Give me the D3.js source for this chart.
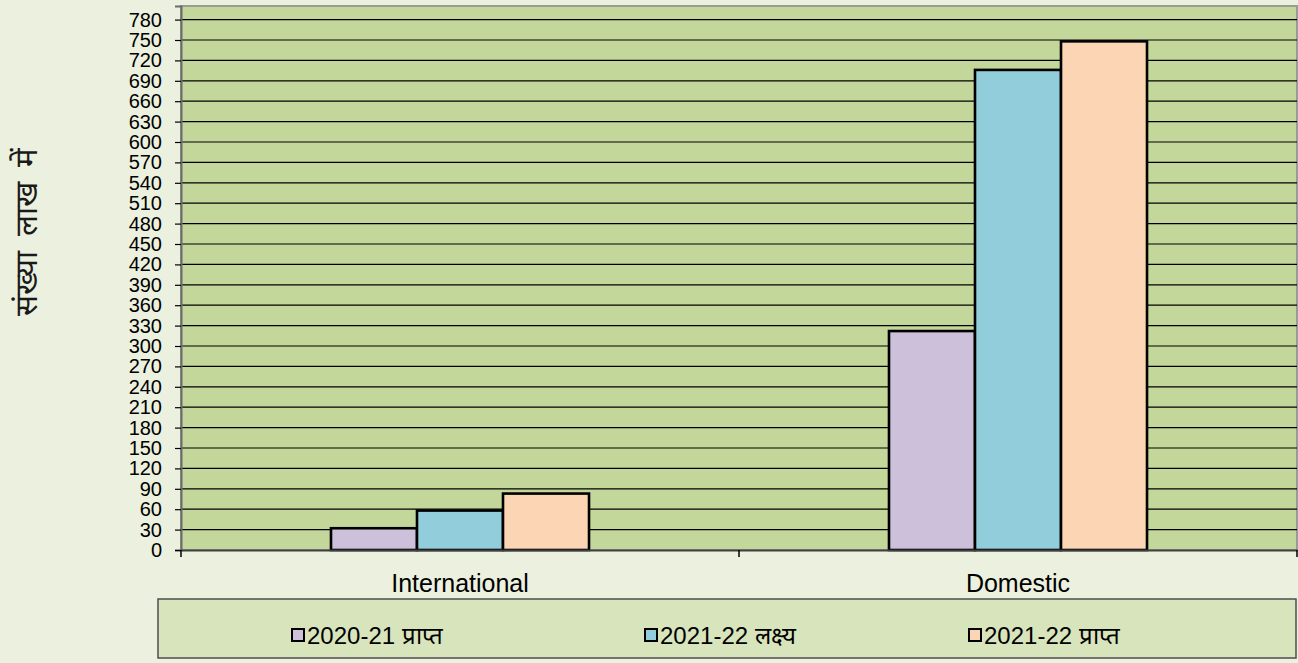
<!DOCTYPE html>
<html>
<head>
<meta charset="utf-8">
<script src="https://cdn.jsdelivr.net/npm/d3@7"></script>
<style>
  html, body { margin: 0; padding: 0; background: #EBF1DE; }
  svg { display: block; font-family: "Liberation Sans", Arial, sans-serif; }
</style>
</head>
<body>
<svg id="chart" width="1298" height="663"></svg>
<script>
// Passenger numbers (in lakh) by sector
const categories = ["International", "Domestic"];
const seriesNames = ["2020-21 प्राप्त", "2021-22 लक्ष्य", "2021-22 प्राप्त"];
const achieved2021 = [32, 322];
const target2122 = [58, 706];
const achieved2122 = [83, 748];
const yTicks = d3.range(0, 781, 30);
const yTitle = "संख्या लाख में";

const seriesColors = ["#CCC0DA", "#92CDDC", "#FCD5B4"];
const seriesValues = [achieved2021, target2122, achieved2122];

const svg = d3.select("#chart");
const plot = { left: 181, right: 1297, top: 6, bottom: 550 };

const x = d3.scaleBand().domain(categories).range([plot.left, plot.right]).padding(0);
const groupFrac = 0.4624;
const xInner = d3.scaleBand().domain(seriesNames)
  .range([0, x.bandwidth() * groupFrac]).padding(0);
const y = d3.scaleLinear().domain([0, 800]).range([plot.bottom, plot.top]);

// plot area background
svg.append("rect")
  .attr("x", plot.left).attr("y", plot.top)
  .attr("width", plot.right - plot.left).attr("height", plot.bottom - plot.top)
  .attr("fill", "#C4D79B")
  .attr("stroke", "#9a9a9a").attr("stroke-width", 2);

// horizontal gridlines
svg.append("g").selectAll("line").data(yTicks.filter(d => d > 0)).join("line")
  .attr("x1", plot.left).attr("x2", plot.right)
  .attr("y1", d => y(d)).attr("y2", d => y(d))
  .attr("stroke", "#000").attr("stroke-width", 1.2);

// y axis
const yAxis = d3.axisLeft(y).tickValues(yTicks).tickSize(6).tickPadding(13);
const gy = svg.append("g").attr("transform", `translate(${plot.left},0)`).call(yAxis);
gy.select(".domain").attr("stroke", "#6b6b6b").attr("stroke-width", 2);
gy.selectAll(".tick line").attr("stroke", "#000").attr("stroke-width", 1.2);
gy.selectAll(".tick text")
  .attr("font-size", 20).attr("fill", "#000")
  .attr("font-family", "'Liberation Sans', Arial, sans-serif");

// bars
const groups = svg.append("g").selectAll("g").data(categories).join("g")
  .attr("transform", (d) => `translate(${x(d) + (x.bandwidth() - x.bandwidth() * groupFrac) / 2},0)`);
groups.selectAll("rect")
  .data((c, ci) => seriesNames.map((s, si) => ({ s, si, v: seriesValues[si][ci] })))
  .join("rect")
  .attr("x", d => xInner(d.s))
  .attr("y", d => y(d.v))
  .attr("width", xInner.bandwidth())
  .attr("height", d => y(0) - y(d.v))
  .attr("fill", d => seriesColors[d.si])
  .attr("stroke", "#000").attr("stroke-width", 2.6);

// x axis
const xAxis = d3.axisBottom(x).tickSize(0).tickPadding(24);
const gx = svg.append("g").attr("transform", `translate(0,${plot.bottom})`).call(xAxis);
gx.select(".domain").attr("stroke", "#404040").attr("stroke-width", 2.2);
gx.selectAll(".tick text")
  .attr("font-size", 25).attr("fill", "#000")
  .attr("font-family", "'Liberation Sans', Arial, sans-serif");
// category boundary ticks
const bounds = [plot.left, x("Domestic"), plot.right];
svg.append("g").selectAll("line").data(bounds).join("line")
  .attr("x1", d => d).attr("x2", d => d)
  .attr("y1", plot.bottom).attr("y2", plot.bottom + 7)
  .attr("stroke", "#000").attr("stroke-width", 1.5);

// y axis title
svg.append("text")
  .attr("transform", "translate(37,232) rotate(-90)")
  .attr("text-anchor", "middle")
  .attr("font-size", 31)
  .attr("font-weight", 300)
  .attr("fill", "#1a1a1a")
  .attr("word-spacing", 6)
  .text(yTitle);

// legend
const legend = { x: 158, y: 599, w: 1138, h: 59 };
svg.append("rect")
  .attr("x", legend.x).attr("y", legend.y)
  .attr("width", legend.w).attr("height", legend.h)
  .attr("fill", "#D8E4BC").attr("stroke", "#4d4d4d").attr("stroke-width", 1.5);
const legendX = [291, 644, 968];
const li = svg.append("g").selectAll("g").data(seriesNames).join("g")
  .attr("transform", (d, i) => `translate(${legendX[i]},628)`);
li.append("rect")
  .attr("x", 1).attr("y", 1).attr("width", 12).attr("height", 12)
  .attr("fill", (d, i) => seriesColors[i])
  .attr("stroke", "#000").attr("stroke-width", 2);
li.append("text")
  .attr("x", 16).attr("y", 16)
  .attr("font-size", 24).attr("fill", "#000")
  .text(d => d);
</script>
</body>
</html>
